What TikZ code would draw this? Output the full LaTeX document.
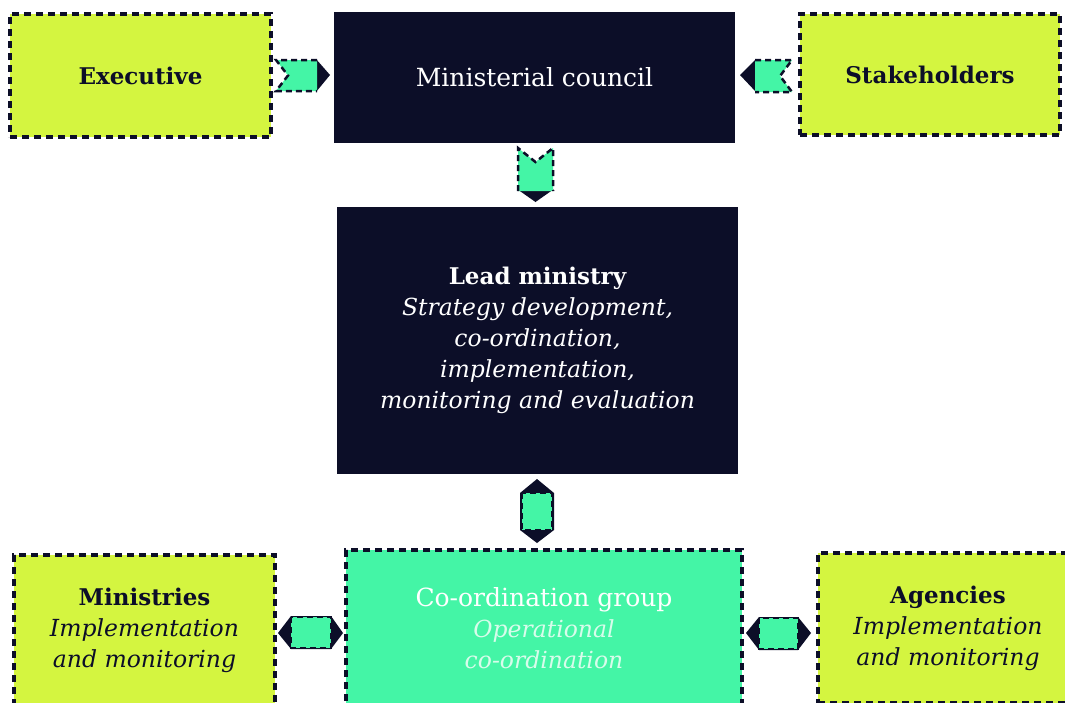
\documentclass[tikz,border=0pt]{standalone}
\usepackage{fontspec}
\setmainfont{DejaVu Serif}
\definecolor{navy}{HTML}{0C0E28}
\definecolor{lime}{HTML}{D4F540}
\definecolor{mint}{HTML}{44F5A6}
\definecolor{pale}{HTML}{D8FCEB}
\newcommand{\tbold}{\fontsize{23}{31}\selectfont\bfseries}
\newcommand{\treg}{\fontsize{25}{31}\selectfont}
\newcommand{\tital}{\fontsize{23.5}{31}\selectfont\itshape}
\begin{document}
\begin{tikzpicture}[x=1pt,y=-1pt,
  dashborder/.style={draw=navy, line width=3.2pt, dash pattern=on 7pt off 5pt},
  basefont/.style={font=\fontsize{23}{31}\selectfont},
  limebox/.style={dashborder, fill=lime, text=navy, align=center, inner sep=0pt, basefont},
  navybox/.style={fill=navy, text=white, align=center, inner sep=0pt, basefont},
  mintbox/.style={dashborder, fill=mint, text=white, align=center, inner sep=0pt, basefont},
  arrbody/.style={fill=mint, draw=navy, line width=2.5pt, dash pattern=on 6pt off 4pt},
  tip/.style={fill=navy},
]
\useasboundingbox (0,0) rectangle (1065,702);
\clip (0,0) rectangle (1065,702);
\fill[white] (0,0) rectangle (1065,702);

% boxes
\node[limebox, minimum width=261pt, minimum height=123pt] (exec) at (140.5,75.5) {\tbold Executive};
\node[navybox, minimum width=401pt, minimum height=131pt] (mc) at (534.5,77.5) {\treg Ministerial council};
\node[limebox, minimum width=260pt, minimum height=121pt] (stake) at (930,74.5) {\tbold Stakeholders};
\node[navybox, minimum width=401pt, minimum height=267pt] (lead) at (537.5,340.5)
  {\tbold Lead ministry\\\tital Strategy development,\\\tital co-ordination,\\\tital implementation,\\\tital monitoring and evaluation};
\node[limebox, minimum width=261pt, minimum height=150pt] (mins) at (144.5,630)
  {\tbold Ministries\\\tital Implementation\\\tital and monitoring};
\node[mintbox, minimum width=396pt, minimum height=156pt] (coord) at (544,628)
  {\treg Co-ordination group\\\color{pale}\tital Operational\\\color{pale}\tital co-ordination};
\node[limebox, minimum width=260pt, minimum height=150pt] (agen) at (948,628)
  {\tbold Agencies\\\tital Implementation\\\tital and monitoring};

% Executive -> Ministerial council
\fill[tip] (316,59) -- (330,75) -- (316,92) -- cycle;
\path[arrbody] (317,60) -- (276,60) -- (288,75.5) -- (276,91) -- (317,91);

% Stakeholders -> Ministerial council
\fill[tip] (756,59) -- (740,75) -- (756,92) -- cycle;
\path[arrbody] (755,60) -- (792,60) -- (780,76) -- (792,92) -- (755,92);

% Ministerial council -> Lead ministry
\fill[tip] (517,189) -- (554,189) -- (535.5,202) -- cycle;
\path[arrbody] (518,191) -- (518,148) -- (535.5,162) -- (553,148) -- (553,191);

% Lead ministry <-> Co-ordination group
\fill[tip] (537,479) -- (554,493) -- (554,530) -- (537,543) -- (520,530) -- (520,493) -- cycle;
\path[arrbody] (522,493) rectangle (552,530);

% Ministries <-> Co-ordination group
\fill[tip] (278,633) -- (291,616) -- (331,616) -- (343,633) -- (331,649) -- (291,649) -- cycle;
\path[arrbody] (291,617) rectangle (331,648);

% Co-ordination group <-> Agencies
\fill[tip] (746,633) -- (759,617) -- (798,617) -- (811,633) -- (798,650) -- (759,650) -- cycle;
\path[arrbody] (759,618) rectangle (798,649);
\end{tikzpicture}
\end{document}
